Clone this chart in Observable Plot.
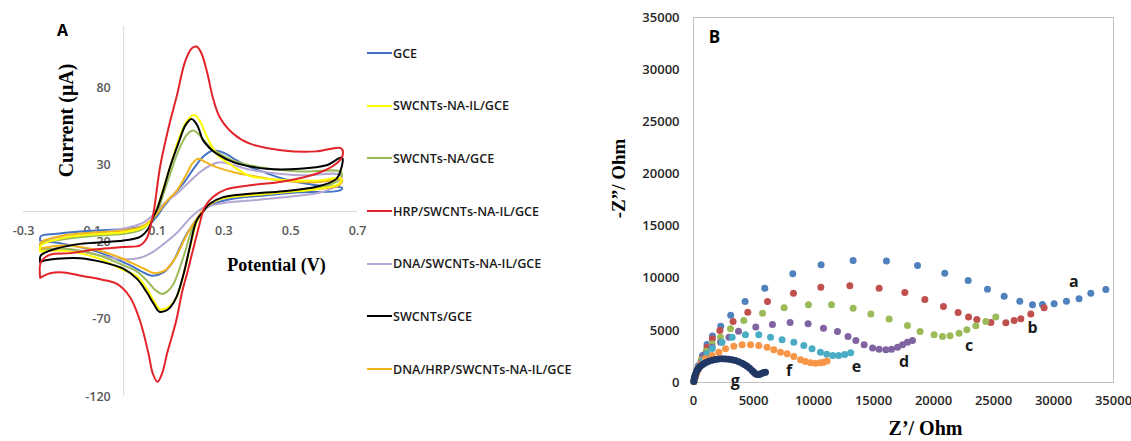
<!DOCTYPE html>
<html><head><meta charset="utf-8">
<script src="https://cdn.jsdelivr.net/npm/d3@7"></script>
<script src="https://cdn.jsdelivr.net/npm/@observablehq/plot@0.6"></script>
<style>
body{margin:0;background:#fff;}
#wrap{position:relative;width:1131px;height:441px;overflow:hidden;background:#fff;}
#pa{position:absolute;left:0;top:0;}
#pb{position:absolute;left:560px;top:0;}
#legend{position:absolute;left:367px;top:0;font-family:"Open Sans";font-weight:600;font-size:12.6px;color:#1a1a1a;}
.item{position:absolute;left:0;display:flex;align-items:center;white-space:nowrap;height:18px;}
.sw{width:25px;height:2px;margin-right:1px;}
</style></head><body>
<div id="wrap"><div id="pa"></div><div id="legend"></div><div id="pb"></div></div>
<script>
// ---------- Panel A: cyclic voltammograms [potential V, current µA] ----------
const namesA = ["GCE","SWCNTs-NA-IL/GCE","SWCNTs-NA/GCE","HRP/SWCNTs-NA-IL/GCE","DNA/SWCNTs-NA-IL/GCE","SWCNTs/GCE","DNA/HRP/SWCNTs-NA-IL/GCE"];
const colorsA = ["#4472C4","#FFFF00","#9BBB59","#E3232A","#B4A7D3","#000000","#F2B31C"];
const drawOrderA = ["GCE","DNA/SWCNTs-NA-IL/GCE","SWCNTs-NA/GCE","DNA/HRP/SWCNTs-NA-IL/GCE","SWCNTs-NA-IL/GCE","SWCNTs/GCE","HRP/SWCNTs-NA-IL/GCE"];

const gce = [[-0.25,-19],[-0.248,-16],[-0.2,-14.5],[-0.13,-13],[-0.05,-12],[0,-11.3],[0.06,-9.5],[0.08,-7.5],[0.1,-3],[0.119,3],[0.15,11],[0.178,18],[0.21,28],[0.24,36],[0.268,39.6],[0.3,38],[0.34,33],[0.378,28.8],[0.427,25],[0.477,21.2],[0.577,17],[0.654,15.4],
 [0.645,13.5],[0.527,12.5],[0.427,10.5],[0.33,8.5],[0.27,5],[0.24,1],[0.215,-6],[0.189,-14.5],[0.165,-25],[0.149,-32],[0.119,-39.5],[0.084,-41.6],[0.05,-38.5],[0.02,-35],[-0.01,-32],[-0.08,-26],[-0.18,-21],[-0.25,-19]];
const swcntsNaIl = [[-0.25,-26],[-0.248,-22],[-0.18,-17],[-0.1,-15],[0,-13.4],[0.05,-11],[0.08,-7],[0.1,2],[0.12,16],[0.14,30],[0.165,47],[0.19,59],[0.213,62.5],[0.23,58],[0.25,48],[0.28,37],[0.33,29],[0.378,23],[0.477,20.5],[0.577,20],[0.651,21.5],
 [0.645,18],[0.577,14.5],[0.477,12.5],[0.378,10.5],[0.298,8.5],[0.258,5],[0.238,0],[0.218,-7],[0.2,-22],[0.18,-40],[0.16,-55],[0.14,-61],[0.125,-63],[0.109,-63.5],[0.09,-58],[0.069,-50],[0.04,-42],[0,-38],[-0.08,-30],[-0.18,-25.5],[-0.25,-26]];
const swcntsNa = [[-0.25,-25],[-0.248,-21],[-0.18,-18],[-0.1,-16],[0,-14.5],[0.05,-12],[0.08,-7],[0.1,0],[0.12,12],[0.14,25],[0.165,40],[0.19,50],[0.208,52.5],[0.225,50],[0.258,42],[0.29,37],[0.328,33],[0.427,28],[0.527,26],[0.651,25.5],
 [0.648,21],[0.577,15],[0.477,12.5],[0.378,11],[0.298,8.5],[0.258,5],[0.238,0],[0.208,-10],[0.178,-30],[0.149,-47],[0.13,-52],[0.114,-53.5],[0.095,-51],[0.07,-45],[0.04,-39],[0,-35],[-0.08,-28],[-0.18,-24],[-0.25,-25]];
const hrp = [[-0.25,-43],[-0.248,-33],[-0.22,-28],[-0.16,-27],[-0.08,-24.5],[0,-23],[0.049,-22],[0.07,-17],[0.08,-10],[0.09,0],[0.109,29],[0.135,55],[0.159,75],[0.185,98],[0.205,106],[0.218,107],[0.232,103],[0.25,90],[0.268,73],[0.288,61],[0.328,50.5],[0.378,44],[0.477,39.6],[0.577,39],[0.651,41],
 [0.655,36],[0.636,31],[0.577,24.5],[0.477,19.5],[0.378,17],[0.308,14.5],[0.268,9.5],[0.243,3],[0.225,-10],[0.205,-27],[0.19,-40],[0.175,-52],[0.157,-71],[0.13,-92],[0.115,-105],[0.101,-110.5],[0.087,-105],[0.074,-92],[0.049,-71],[0.019,-55.6],[-0.02,-47],[-0.07,-44],[-0.12,-42],[-0.18,-39.5],[-0.22,-40],[-0.25,-43]];
const dna = [[-0.25,-24],[-0.248,-20],[-0.15,-16],[-0.05,-13],[0.02,-10],[0.06,-7],[0.09,-2],[0.12,5],[0.159,11.5],[0.2,20],[0.228,25.5],[0.26,30],[0.288,32],[0.33,30],[0.38,27],[0.427,25.5],[0.527,23.5],[0.651,23.5],
 [0.645,18],[0.6,13],[0.527,10.4],[0.4,7.5],[0.3,5.5],[0.255,3.5],[0.235,2],[0.2,-4],[0.159,-14],[0.12,-21],[0.089,-26],[0.05,-30],[0,-31],[-0.05,-29.5],[-0.13,-26],[-0.25,-24]];
const swcnts = [[-0.25,-33],[-0.248,-28.5],[-0.2,-24],[-0.13,-21],[0,-18.8],[0.049,-16.5],[0.074,-11],[0.09,-3],[0.099,1],[0.12,15],[0.139,29],[0.165,45],[0.185,56],[0.203,60],[0.22,56],[0.238,46],[0.258,41],[0.278,37.5],[0.328,32],[0.427,27.7],[0.527,27.7],[0.607,30],[0.654,35],
 [0.65,27],[0.636,21],[0.577,16],[0.477,13.2],[0.378,11.5],[0.298,9.3],[0.258,5],[0.238,0],[0.218,-6],[0.199,-22],[0.18,-40],[0.159,-55],[0.14,-62],[0.125,-64.5],[0.107,-65],[0.09,-60],[0.069,-52.4],[0.04,-43.7],[0,-37.2],[-0.06,-33],[-0.13,-30.3],[-0.2,-30.7],[-0.24,-32],[-0.25,-33]];
const dnaHrp = [[-0.25,-24],[-0.248,-20],[-0.18,-15.5],[-0.08,-13.5],[0,-12.3],[0.05,-10],[0.08,-6],[0.109,1],[0.13,7],[0.159,13.6],[0.19,25],[0.205,31],[0.223,34.2],[0.245,32],[0.278,28.8],[0.33,25.5],[0.378,23.4],[0.477,20],[0.577,19],[0.654,20.6],
 [0.645,17],[0.527,13.6],[0.4,11],[0.3,9],[0.26,5],[0.238,1],[0.215,-6],[0.189,-15],[0.155,-30],[0.125,-38],[0.094,-40],[0.06,-37],[0.02,-33],[-0.01,-30],[-0.08,-25],[-0.18,-22],[-0.25,-24]];

const curvesA = {"GCE":gce,"SWCNTs-NA-IL/GCE":swcntsNaIl,"SWCNTs-NA/GCE":swcntsNa,"HRP/SWCNTs-NA-IL/GCE":hrp,"DNA/SWCNTs-NA-IL/GCE":dna,"SWCNTs/GCE":swcnts,"DNA/HRP/SWCNTs-NA-IL/GCE":dnaHrp};
const xTicksA = [-0.3,-0.1,0.1,0.3,0.5,0.7];
const xTickLabelsA = ["-0.3","-0.1","0.1","0.3","0.5","0.7"];
const yTicksA = [-120,-70,-20,30,80];

// ---------- Panel B: Nyquist plots [Z' Ohm, -Z'' Ohm] ----------
const namesB = ["a","b","c","d","e","f","g"];
const colorsB = ["#4F81BD","#C0504D","#9BBB59","#8064A2","#4BACC6","#F79646","#1F3864"];
const sa = [[30,150],[150,700],[400,1600],[750,2600],[1130,3650],[1580,4450],[2270,5400],[3100,6450],[4300,7770],[5940,9040],[8275,10420],[10635,11280],[13300,11700],[16080,11640],[18670,11220],[20940,10480],[22890,9780],[24500,8950],[25890,8280],[27190,7800],[28250,7450],[29080,7480],[30050,7540],[31080,7800],[32130,8020],[33110,8570],[34360,8920]];
const sb = [[30,120],[150,600],[380,1400],[700,2300],[1130,3390],[1570,4190],[2200,4990],[3300,5850],[4525,6740],[6170,7770],[8330,8560],[10610,9140],[13030,9270],[15470,9040],[17610,8630],[19280,7960],[20830,7290],[22050,6710],[22920,6270],[23610,6040],[24780,5750],[26030,5720],[26720,5950],[27280,6110],[28110,6580],[29220,7160]];
const sc = [[30,110],[140,550],[350,1300],[650,2150],[1050,3000],[1550,3680],[2250,4350],[3080,5150],[4190,5945],[5750,6650],[7550,7160],[9580,7450],[11500,7450],[13300,7130],[14780,6580],[16300,6100],[17830,5470],[18880,4890],[20050,4570],[20750,4410],[21380,4475],[22130,4730],[22780,5050],[23530,5430],[24360,5850],[25190,6270]];
const sd = [[30,100],[130,500],[330,1150],[620,1900],[1000,2700],[1550,3390],[2250,3870],[2950,4350],[3750,4920],[5190,5310],[6580,5560],[8050,5750],[9550,5630],[10830,5210],[12000,4890],[12880,4410],[13530,4030],[14220,3610],[14920,3320],[15470,3200],[16030,3130],[16500,3200],[17000,3390],[17420,3610],[17830,3870],[18250,4030]];
const se = [[30,90],[120,420],[280,950],[500,1550],[800,2150],[1130,2750],[1560,3250],[2380,3870],[3220,4350],[4330,4570],[5440,4570],[6420,4350],[7380,4090],[8360,3870],[9190,3550],[9880,3230],[10580,2910],[11100,2700],[11600,2600],[12100,2580],[12600,2680],[13100,2850]];
const sf = [[25,80],[100,350],[230,800],[400,1250],[580,1750],[1000,2270],[1550,2590],[2110,2910],[2670,3230],[3360,3480],[4050,3610],[4750,3610],[5440,3550],[6130,3390],[6690,3130],[7250,2910],[7800,2750],[8360,2490],[8920,2170],[9330,2010],[9750,1890],[10170,1850],[10580,1890],[10860,1950],[11130,2050]];
const sg = [[25,100],[60,350],[110,600],[167,800],[250,1050],[340,1250],[442,1400],[560,1550],[700,1680],[858,1790],[1050,1920],[1275,2046],[1550,2140],[1833,2205],[2100,2250],[2383,2270],[2660,2260],[2942,2237],[3220,2180],[3500,2110],[3780,2000],[4050,1854],[4270,1700],[4467,1566],[4680,1370],[4883,1151],[5030,980],[5167,831],[5300,770],[5442,767],[5580,820],[5717,895],[5860,950],[6000,991]];
const seriesB = {a:sa,b:sb,c:sc,d:sd,e:se,f:sf,g:sg};
const labelPosB = [[31700,9620],[28250,5250],[22970,3480],[17550,1950],[13580,1530],[7960,1150],[3480,140]];
const ticksB = [0,5000,10000,15000,20000,25000,30000,35000];

// ---------- build tables ----------
const rowsA = drawOrderA.flatMap(n => curvesA[n].map(([v, i]) => ({series: n, v, i})));
const rowsB = namesB.flatMap(n => seriesB[n].map(([zr, zi]) => ({series: n, zr, zi})));
const labelRowsB = namesB.map((n, k) => ({label: n, zr: labelPosB[k][0], zi: labelPosB[k][1]}));

const serif = "Liberation Serif, Times New Roman, serif";
const sans = "Open Sans, Liberation Sans, sans-serif";
const mid = {textAnchor: "middle", lineAnchor: "middle"};

const plotA = Plot.plot({
  width: 370, height: 441, marginLeft: 23, marginRight: 13, marginTop: 26, marginBottom: 45,
  x: {domain: [-0.3, 0.7], axis: null},
  y: {domain: [-120, 120], axis: null},
  color: {domain: namesA, range: colorsA},
  style: {overflow: "visible", background: "transparent", fontFamily: sans},
  marks: [
    Plot.ruleY([0], {stroke: "#d9d9d9", strokeWidth: 1}),
    Plot.ruleX([0], {stroke: "#d9d9d9", strokeWidth: 1}),
    Plot.text(xTicksA, {x: d => d, y: 0, dy: 19, text: (d, k) => xTickLabelsA[k], fill: "#595959", fontSize: 12.5, fontWeight: 600, fontFamily: sans}),
    Plot.text(yTicksA, {x: 0, y: d => d, dx: -13, textAnchor: "end", text: d => String(d), fill: "#595959", fontSize: 12.5, fontWeight: 600, fontFamily: sans}),
    Plot.line(rowsA, {x: "v", y: "i", z: "series", stroke: "series", strokeWidth: 2, curve: "catmull-rom"}),
    Plot.text(["Current (μA)"], {frameAnchor: "top-left", ...mid, dx: 43, dy: 94, rotate: -90, fontSize: 20, fontWeight: "bold", fontFamily: serif, fill: "#000"}),
    Plot.text(["Potential (V)"], {frameAnchor: "top-left", ...mid, dx: 253, dy: 239, fontSize: 18, fontWeight: "bold", fontFamily: serif, fill: "#000"}),
    Plot.text(["A"], {frameAnchor: "top-left", ...mid, dx: 39, dy: 4, fontSize: 16, fontWeight: 700, fontFamily: "Open Sans, sans-serif", fill: "#000"})
  ]
});
document.getElementById("pa").appendChild(plotA);

// legend
const leg = document.getElementById("legend");
namesA.forEach((n, k) => {
  const it = document.createElement("div");
  it.className = "item";
  it.style.top = (53 + k * 52.67 - 9) + "px";
  const sw = document.createElement("span");
  sw.className = "sw"; sw.style.background = colorsA[k];
  const tx = document.createElement("span");
  tx.textContent = n;
  it.appendChild(sw); it.appendChild(tx);
  leg.appendChild(it);
});

const plotB = Plot.plot({
  width: 571, height: 441, marginLeft: 133, marginRight: 18, marginTop: 17, marginBottom: 59,
  x: {domain: [0, 35000]},
  y: {domain: [0, 35000]},
  color: {domain: namesB, range: colorsB},
  style: {overflow: "visible", background: "transparent", fontFamily: sans, fontSize: "13px", fontWeight: 600},
  marks: [
    Plot.frame({stroke: "#bfbfbf"}),
    Plot.axisX(ticksB, {tickSize: 0, tickPadding: 13, tickFormat: d => String(d), label: null, fill: "#262626"}),
    Plot.axisY(ticksB, {tickSize: 0, tickPadding: 14, tickFormat: d => String(d), label: null, fill: "#262626"}),
    Plot.dot(rowsB, {x: "zr", y: "zi", fill: "series", r: 3.5}),
    Plot.text(labelRowsB, {x: "zr", y: "zi", text: "label", fontSize: 16, fontWeight: "bold", fontFamily: sans, fill: "#1a1a1a"}),
    Plot.text(["B"], {frameAnchor: "top-left", ...mid, dx: 21, dy: 20, fontSize: 17, fontWeight: 700, fontFamily: "Open Sans, sans-serif", fill: "#000"}),
    Plot.text(["-Z\u201D/ Ohm"], {frameAnchor: "top-left", ...mid, dx: -75, dy: 161, rotate: -90, fontSize: 19, fontWeight: "bold", fontFamily: serif, fill: "#000"}),
    Plot.text(["Z\u2019/ Ohm"], {frameAnchor: "top-left", ...mid, dx: 232, dy: 411, fontSize: 20, fontWeight: "bold", fontFamily: serif, fill: "#000"})
  ]
});
document.getElementById("pb").appendChild(plotB);
</script></body></html>
